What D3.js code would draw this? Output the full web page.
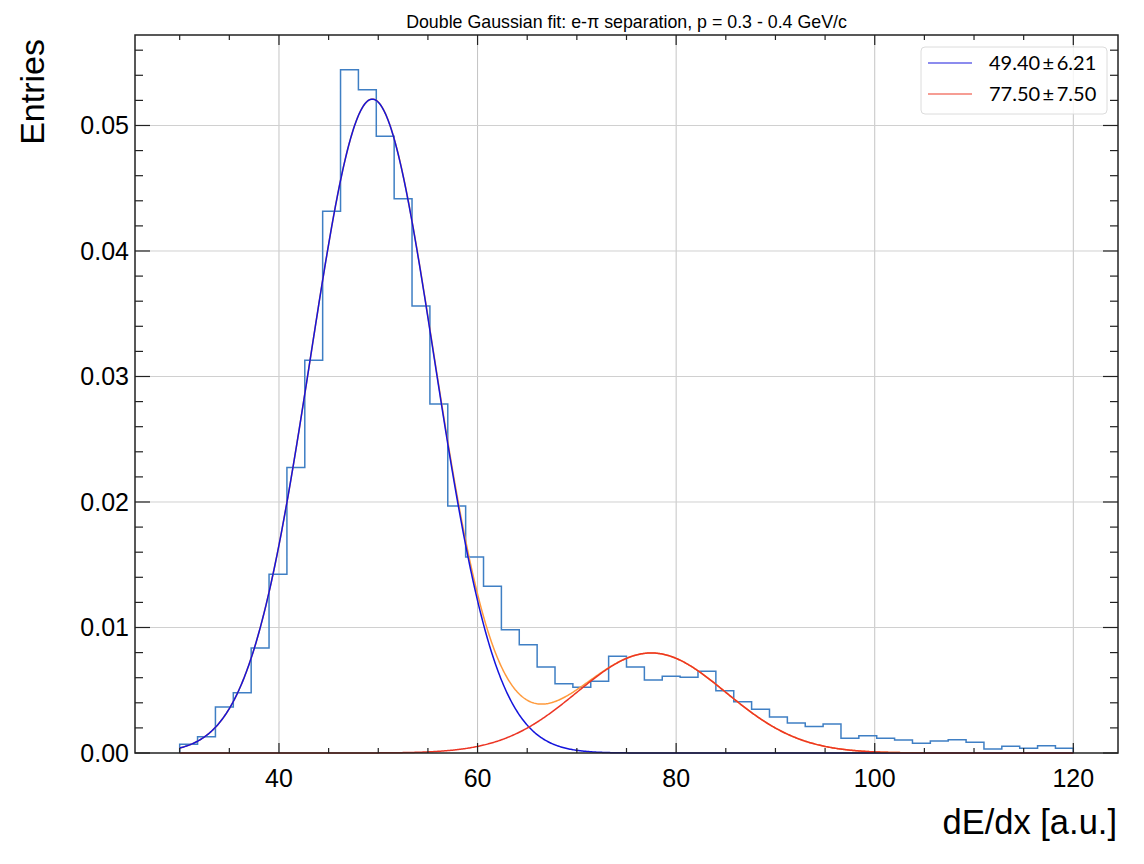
<!DOCTYPE html>
<html>
<head>
<meta charset="utf-8">
<script src="https://cdn.jsdelivr.net/npm/d3@7"></script>
<style>
    body { margin: 0; background: #fff; }
    text { font-family: "Liberation Sans", Arial, sans-serif; fill: #000; }
</style>
</head>
<body>
<div id="chart-area"></div>
<script>

/********************************************/
// Data _____________________________________/
/********************************************/

// 50 bins of width 1.8 between 30 and 120 (normalized entries)
var binStart = 30, binWidth = 1.8;
var entries = [
    0.00069, 0.00130, 0.00367, 0.00480, 0.00837, 0.01424, 0.02275, 0.03130, 0.04316, 0.05445,
    0.05285, 0.04914, 0.04417, 0.03562, 0.02781, 0.01968, 0.01562, 0.01328, 0.00983, 0.00863,
    0.00685, 0.00552, 0.00523, 0.00571, 0.00770, 0.00685, 0.00582, 0.00611, 0.00603, 0.00651,
    0.00497, 0.00409, 0.00348, 0.00287, 0.00239, 0.00212, 0.00231, 0.00117, 0.00138, 0.00117,
    0.00104, 0.00077, 0.00096, 0.00106, 0.00085, 0.00032, 0.00053, 0.00037, 0.00058, 0.00037
];

// fit parameters: [pion, electron]
var fitMu = [49.40, 77.50];
var fitSigma = [6.21, 7.50];
var fitAmp = [0.0521, 0.00797];
var fitLabels = ["49.40\u2009\u00b1\u20096.21", "77.50\u2009\u00b1\u20097.50"];

var xTicks = [40, 60, 80, 100, 120];
var yTicks = [0, 0.01, 0.02, 0.03, 0.04, 0.05];

/********************************************/
// Svg dimension creation ___________________/
/********************************************/

var margin = { left: 135, right: 26, top: 35, bottom: 111 },
    width = 1144 - margin.left - margin.right,
    height = 864 - margin.top - margin.bottom;

var svg = d3.select("#chart-area").append("svg")
    .attr("width", 1144)
    .attr("height", 864);

var g = svg.append("g")
    .attr("transform", "translate(" + margin.left + "," + margin.top + ")");

var x = d3.scaleLinear().domain([25.5, 124.5]).range([0, width]);
var y = d3.scaleLinear().domain([0, 0.05721]).range([height, 0]);

// Grid
g.append("g").selectAll("line").data(xTicks).join("line")
    .attr("x1", (d) => x(d)).attr("x2", (d) => x(d))
    .attr("y1", 0).attr("y2", height)
    .attr("stroke", "#c4c4c4").attr("stroke-width", 1);
g.append("g").selectAll("line").data(yTicks.slice(1)).join("line")
    .attr("x1", 0).attr("x2", width)
    .attr("y1", (d) => y(d)).attr("y2", (d) => y(d))
    .attr("stroke", "#d0d0d0").attr("stroke-width", 1);

/********************************************/
// Histogram + fits _________________________/
/********************************************/

// step outline, closed down to zero at both ends
function stepPath(vals) {
    var out = [[binStart, 0]];
    vals.forEach((v, i) => {
        out.push([binStart + i * binWidth, v]);
        out.push([binStart + (i + 1) * binWidth, v]);
    });
    out.push([binStart + vals.length * binWidth, 0]);
    return out;
}

var curve = d3.line().x((d) => x(d[0])).y((d) => y(d[1]));

g.append("path")
    .attr("d", curve(stepPath(entries)))
    .attr("fill", "none")
    .attr("stroke", "#3f7fc4")
    .attr("stroke-width", 1.5);

function gauss(k, v) {
    return fitAmp[k] * Math.exp(-Math.pow(v - fitMu[k], 2) / (2 * fitSigma[k] * fitSigma[k]));
}

var xs = d3.range(30, 120.001, 0.1);

g.append("path")
    .attr("d", curve(xs.map((v) => [v, gauss(0, v) + gauss(1, v)])))
    .attr("fill", "none").attr("stroke", "#ff9a3c").attr("stroke-width", 1.5);
g.append("path")
    .attr("d", curve(xs.map((v) => [v, gauss(0, v)])))
    .attr("fill", "none").attr("stroke", "#1414dc").attr("stroke-width", 1.5);
g.append("path")
    .attr("d", curve(xs.map((v) => [v, gauss(1, v)])))
    .attr("fill", "none").attr("stroke", "#ec3524").attr("stroke-width", 1.5);

/********************************************/
// Frame + ticks ____________________________/
/********************************************/

var xMinor = d3.range(30, 125, 5).filter((d) => d % 20 !== 0);
var yMinor = d3.range(0.002, 0.0572, 0.002).filter((d) => Math.abs(d * 100 - Math.round(d * 100)) > 1e-6);

function tickSet(vals, len, isX) {
    var grp = g.append("g").attr("stroke", "#222").attr("stroke-width", 1.2);
    vals.forEach((d) => {
        if (isX) {
            grp.append("line").attr("x1", x(d)).attr("x2", x(d)).attr("y1", height).attr("y2", height - len);
            grp.append("line").attr("x1", x(d)).attr("x2", x(d)).attr("y1", 0).attr("y2", len);
        } else {
            grp.append("line").attr("y1", y(d)).attr("y2", y(d)).attr("x1", 0).attr("x2", len);
            grp.append("line").attr("y1", y(d)).attr("y2", y(d)).attr("x1", width).attr("x2", width - len);
        }
    });
}
tickSet(xTicks, 10, true);
tickSet(xMinor, 5, true);
tickSet(yTicks, 15, false);
tickSet(yMinor, 8, false);

g.append("rect")
    .attr("width", width).attr("height", height)
    .attr("fill", "none").attr("stroke", "#222").attr("stroke-width", 1.5);

// Tick labels
g.append("g").selectAll("text").data(xTicks).join("text")
    .attr("x", (d) => x(d)).attr("y", height + 34)
    .attr("text-anchor", "middle")
    .style("font-size", "25px")
    .text((d) => d);
g.append("g").selectAll("text").data(yTicks).join("text")
    .attr("x", -6).attr("y", (d) => y(d))
    .attr("dy", "0.36em")
    .attr("text-anchor", "end")
    .style("font-size", "25px")
    .text(d3.format(".2f"));

// Axis titles
svg.append("text")
    .attr("transform", "rotate(-90)")
    .attr("x", -39).attr("y", 44)
    .attr("text-anchor", "end")
    .style("font-size", "34px")
    .text("Entries");
svg.append("text")
    .attr("x", 1117).attr("y", 834)
    .attr("text-anchor", "end")
    .style("font-size", "34.5px")
    .text("dE/dx [a.u.]");

// Title
svg.append("text")
    .attr("x", margin.left + width / 2).attr("y", 28)
    .attr("text-anchor", "middle")
    .style("font-size", "17.8px")
    .text("Double Gaussian fit: e-\u03c0 separation, p = 0.3 - 0.4 GeV/c");

/********************************************/
// Legend ___________________________________/
/********************************************/

var legend = svg.append("g").attr("transform", "translate(921,47)");
legend.append("rect")
    .attr("width", 186).attr("height", 67).attr("rx", 4)
    .attr("fill", "#fff").attr("fill-opacity", 0.8)
    .attr("stroke", "#dcdcdc");
var legendColors = ["#1414dc", "#ec3524"];
fitLabels.forEach((lab, i) => {
    legend.append("line")
        .attr("x1", 7).attr("x2", 51)
        .attr("y1", 16 + i * 31).attr("y2", 16 + i * 31)
        .attr("stroke", legendColors[i]).attr("stroke-opacity", 0.65)
        .attr("stroke-width", 1.5);
    legend.append("text")
        .attr("x", 68).attr("y", 23 + i * 31)
        .style("font-family", "Lato, sans-serif")
        .style("font-size", "20px")
        .text(lab);
});

</script>
</body>
</html>
